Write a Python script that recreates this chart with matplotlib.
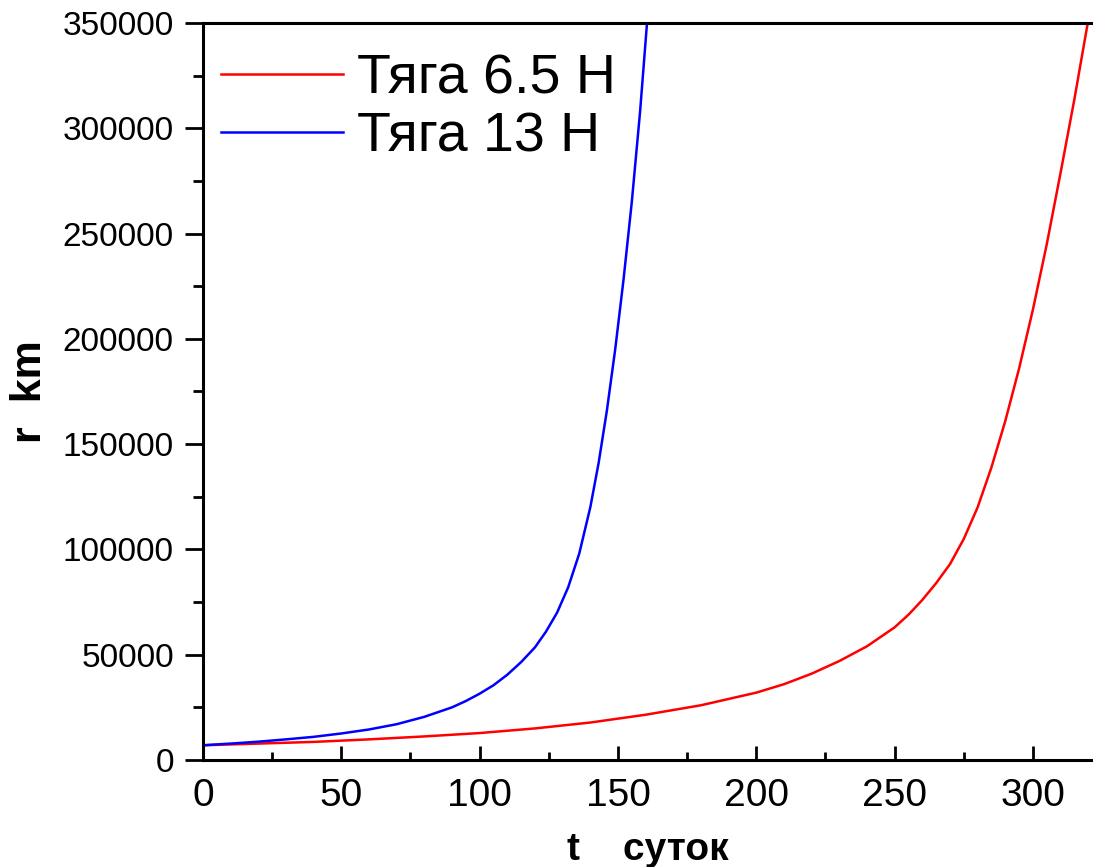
import matplotlib
matplotlib.use('Agg')
import matplotlib.pyplot as plt
from matplotlib.ticker import MultipleLocator

# Values (t in days, r in km)
t_13 = [0, 10, 20, 30, 40, 50, 60, 70, 80, 90, 95, 100, 105, 110, 115,
        120, 124, 128, 132, 136, 140, 143, 146, 149, 152, 155, 158, 160.5]
r_13 = [7000, 7800, 8700, 9800, 11000, 12600, 14500, 17000, 20500, 25000,
        28000, 31500, 35500, 40500, 46500, 53500, 61000, 70000, 82000,
        98000, 120000, 141000, 166000, 195000, 228000, 265000, 308000, 350000]

t_65 = [0, 20, 40, 60, 80, 100, 120, 140, 160, 180, 200, 210, 220, 230,
        240, 250, 255, 260, 265, 270, 275, 280, 285, 290, 295, 300, 305,
        310, 315, 319.8]
r_65 = [7000, 7800, 8600, 9800, 11200, 12800, 15000, 17800, 21500, 26000,
        32000, 36000, 41000, 47000, 54000, 63000, 69000, 76000, 84000,
        93000, 105000, 120000, 139000, 161000, 186000, 214000, 245000,
        279000, 314000, 350000]

labels = ['Тяга 6.5 Н', 'Тяга 13 Н']

plt.rcParams['font.family'] = ['Liberation Sans', 'DejaVu Sans']

fig = plt.figure(figsize=(10.93, 8.67), dpi=100)
ax = fig.add_axes([0.1857, 0.1234, 0.8143, 0.8501])

ax.plot(t_65, r_65, color='#ff0000', lw=1.8, label=labels[0])
ax.plot(t_13, r_13, color='#0000ff', lw=1.8, label=labels[1])

ax.set_xlim(0, 321.7)
ax.set_ylim(0, 350000)

ax.xaxis.set_major_locator(MultipleLocator(50))
ax.xaxis.set_minor_locator(MultipleLocator(25))
ax.yaxis.set_major_locator(MultipleLocator(50000))
ax.yaxis.set_minor_locator(MultipleLocator(25000))

for s in ['left', 'bottom', 'top']:
    ax.spines[s].set_linewidth(2.2)
ax.spines['right'].set_visible(False)

ax.tick_params(axis='x', which='major', direction='in', length=10, width=2,
               labelsize=28, pad=13)
ax.tick_params(axis='x', which='minor', direction='in', length=6, width=2)
ax.tick_params(axis='y', which='major', direction='out', length=13, width=2,
               labelsize=24, pad=8)
ax.tick_params(axis='y', which='minor', direction='out', length=7, width=2)

ax.set_xlabel('t    суток', fontsize=28, fontweight='bold')
ax.set_ylabel('r  km', fontsize=31, fontweight='bold')
ax.xaxis.set_label_coords(0.5, -0.098)
ax.yaxis.set_label_coords(-0.172, 0.5)

ax.legend(loc='upper left', bbox_to_anchor=(0.02, 0.958), frameon=False,
          fontsize=40, handlelength=2.2, handletextpad=0.26,
          borderpad=0, borderaxespad=0, labelspacing=0.1)

fig.savefig('out.png', dpi=100)
